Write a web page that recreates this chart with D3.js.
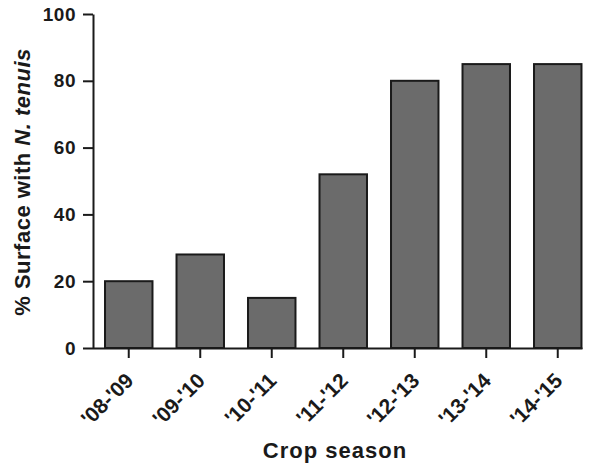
<!DOCTYPE html>
<html><head><meta charset="utf-8">
<script src="https://cdn.jsdelivr.net/npm/d3@7"></script>
<style>body{margin:0;background:#fff}svg{display:block}text{font-family:"Liberation Sans",Arial,sans-serif;font-weight:bold;fill:#1a1a1a}</style>
</head><body>
<script>
const categories = ["'08-'09","'09-'10","'10-'11","'11-'12","'12-'13","'13-'14","'14-'15"];
const values = [20, 28, 15, 52, 80, 85, 85];
const yTicks = [0, 20, 40, 60, 80, 100];

const W = 593, H = 466;
const svg = d3.select("body").append("svg").attr("width", W).attr("height", H);
const x0 = 93, yTop = 14, yBot = 348;
const x = d3.scaleBand().domain(categories).range([x0, 593.5]).paddingInner(0.336).paddingOuter(0.168);
const y = d3.scaleLinear().domain([0, 100]).range([yBot, yTop]);
const ink = "#1a1a1a";
const FF = "Liberation Sans, Arial, sans-serif";

// bars
svg.append("g").selectAll("rect").data(values).join("rect")
  .attr("x", (d, i) => x(categories[i]))
  .attr("y", d => y(d))
  .attr("width", x.bandwidth())
  .attr("height", d => y(0) - y(d))
  .attr("fill", "#6b6b6b").attr("stroke", ink).attr("stroke-width", 2);

// y axis
const ya = svg.append("g").attr("transform", `translate(${x0},0)`)
  .call(d3.axisLeft(y).tickValues(yTicks).tickSize(10).tickPadding(7).tickSizeOuter(0));
ya.select(".domain").attr("stroke", ink).attr("stroke-width", 2);
ya.selectAll(".tick line").attr("stroke", ink).attr("stroke-width", 2);
ya.selectAll(".tick text").style("font-size", "19px").style("letter-spacing", "0.5px")
  .style("font-family", FF).style("font-weight", "bold").attr("fill", ink);

// x axis
const xa = svg.append("g").attr("transform", `translate(0,${yBot})`)
  .call(d3.axisBottom(x).tickSize(10).tickSizeOuter(0));
xa.select(".domain").attr("d", `M${x0},0.5H${x(categories[6]) + x.bandwidth() + 1}`).attr("stroke", ink).attr("stroke-width", 2);
xa.selectAll(".tick line").attr("stroke", ink).attr("stroke-width", 2);
xa.selectAll(".tick text")
  .style("font-size", "21px").style("font-family", FF).style("font-weight", "bold").attr("fill", ink)
  .attr("text-anchor", "end").attr("dy", null).attr("y", 0)
  .attr("transform", "translate(6,34) rotate(-45)");

// titles
svg.append("text").attr("x", 335).attr("y", 458).attr("text-anchor", "middle")
  .style("font-size", "22px").style("letter-spacing", "1px").text("Crop season");

const yt = svg.append("text").attr("transform", `translate(30,182) rotate(-90)`)
  .attr("text-anchor", "middle").style("font-size", "22px").style("letter-spacing", "0.5px");
yt.append("tspan").text("% Surface with ");
yt.append("tspan").style("font-style", "italic").text("N. tenuis");
</script>
</body></html>
